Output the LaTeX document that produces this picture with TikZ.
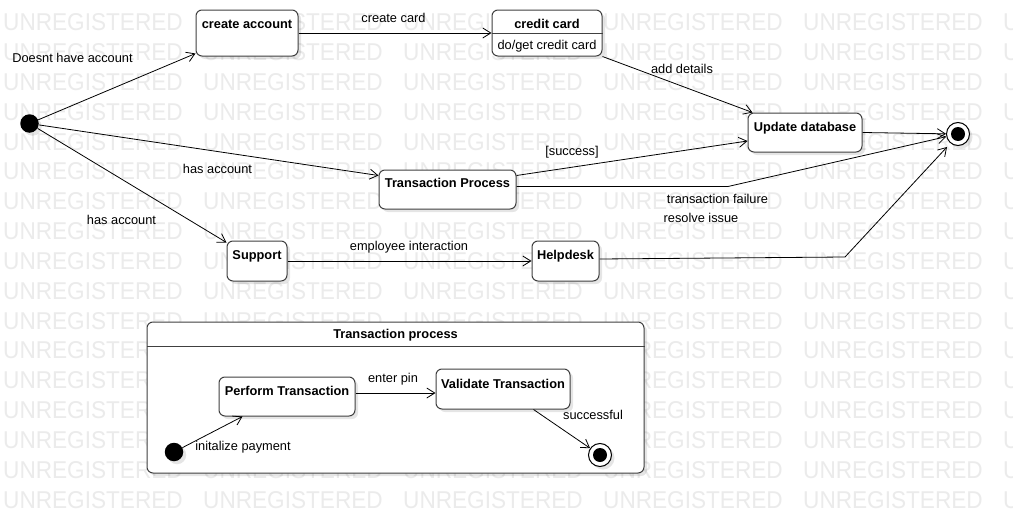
\documentclass[tikz,border=0pt]{standalone}
\usepackage{fontspec}
\setmainfont{Liberation Sans}
\newfontfamily\wmfont[FakeStretch=0.93]{Liberation Sans}
\usetikzlibrary{arrows.meta,shadows}
\begin{document}
\begin{tikzpicture}[x=1pt,y=-1pt,
  lbl/.style={font=\fontsize{12.8}{14}\selectfont, text=black, inner sep=0pt, anchor=base},
  wm/.style={font=\wmfont\fontsize{24.3}{24.3}\selectfont, text=black!8, inner sep=0pt, anchor=base west},
  shad/.style={drop shadow={shadow xshift=3pt,shadow yshift=-3pt,fill=black,opacity=0.1}},
  state/.style={shad, draw=black!75, line width=1pt, fill=white, rounded corners=6pt,
    inner xsep=2pt, inner ysep=0pt, text height=18pt,
    font=\bfseries\fontsize{12.8}{14}\selectfont},
  initst/.style={shad, circle, fill=black, minimum size=18.5pt, inner sep=0pt},
  finalst/.style={shad, circle, draw=black, line width=1pt, fill=white, minimum size=23pt, inner sep=0pt},
  finaldot/.style={circle, fill=black, minimum size=14pt, inner sep=0pt},
  divline/.style={draw=black!75, line width=1pt},
  edge/.style={draw=black, line width=0.8pt, -{Straight Barb[length=8pt,width=10pt]}}
]
\useasboundingbox (0,0) rectangle (1013,514);
\fill[white] (0,0) rectangle (1013,514);
% watermark
\foreach \r in {0,...,16}{
  \foreach \c in {0,...,5}{
    \node[wm, name=wm-\r-\c] at ({3+200*\c},{30.8+29.83*\r}) {UNREGISTERED};
  }
}
% composite state
\node[state, minimum width=497pt, text height=16pt, text depth=135pt] (tpc) at (395.5,397.5) {Transaction process};
\draw[divline] ([yshift=-25pt]tpc.north west) -- ([yshift=-25pt]tpc.north east);

% top-level states
\node[initst] (init) at (29.5,123.5) {};
\node[state, minimum width=102pt, text depth=28pt] (ca) at (247,33) {create account};
\node[state, minimum width=110pt, text depth=28pt] (cc) at (547,33) {credit card};
\draw[divline] ([yshift=-24.3pt]cc.north west) -- ([yshift=-24.3pt]cc.north east);
\node[lbl] (ccdo) at (547,49) {do/get credit card};
\node[state, minimum width=114pt, text depth=21pt] (ud) at (805,132.5) {Update database};
\node[state, minimum width=137pt, text height=17pt, text depth=22pt] (tp) at (447.5,189.5) {Transaction Process};
\node[state, minimum width=60pt, text depth=22pt] (sup) at (257,261) {Support};
\node[state, minimum width=67pt, text depth=22pt] (help) at (565.5,261) {Helpdesk};
\node[finalst] (fin) at (958,134) {};
\node[finaldot] (finin) at (fin) {};

% inner states
\node[initst] (iinit) at (174,452) {};
\node[state, minimum width=136pt, text depth=21pt] (pt) at (287,396.5) {Perform Transaction};
\node[state, minimum width=134pt, text height=19pt, text depth=21pt] (vt) at (503,389) {Validate Transaction};
\node[finalst] (ifin) at (600,455) {};
\node[finaldot] (ifinin) at (ifin) {};

% connectors
\draw[edge] (init) -- ([yshift=3pt]ca.south west);
\draw[edge] (ca.east) -- (cc.west);
\draw[edge] (cc.south east) -- ([xshift=5pt]ud.north west);
\draw[edge] (init) -- ([yshift=-6pt]tp.north west);
\draw[edge] (init) -- ([yshift=-2pt]sup.north west);
\draw[edge] ([yshift=-6pt]tp.north east) -- ([yshift=-8.5pt]ud.west);
\coordinate (b1) at (728,186.5);
\draw[edge] ([yshift=3pt]tp.east) -- (b1) -- (fin);
\draw[edge] (ud.east) -- (fin);
\draw[edge] (sup.east) -- (help.west);
\coordinate (b2) at (845,257);
\draw[edge] ([yshift=2pt]help.east) -- (b2) -- ([shift={(-11pt,-13pt)}]fin.center);
\draw[edge] (iinit) -- ([xshift=24pt]pt.south west);
\draw[edge] ([yshift=3.5pt]pt.east) -- ([yshift=-4pt]vt.west);
\draw[edge] ([xshift=-37pt]vt.south east) -- (ifin);

% labels
\node[lbl] (l1) at (72.5,62) {Doesnt have account};
\node[lbl] (l2) at (393.5,22) {create card};
\node[lbl] (l3) at (682,73.5) {add details};
\node[lbl] (l4) at (217.5,173) {has account};
\node[lbl] (l5) at (121.5,224.5) {has account};
\node[lbl] (l6) at (572,155) {[success]};
\node[lbl] (l7) at (717.5,203.5) {transaction failure};
\node[lbl] (l8) at (701,222.5) {resolve issue};
\node[lbl] (l9) at (409,250) {employee interaction};
\node[lbl] (l10) at (243,450.5) {initalize payment};
\node[lbl] (l11) at (393,382) {enter pin};
\node[lbl] (l12) at (593,419.5) {successful};
\end{tikzpicture}
\end{document}
